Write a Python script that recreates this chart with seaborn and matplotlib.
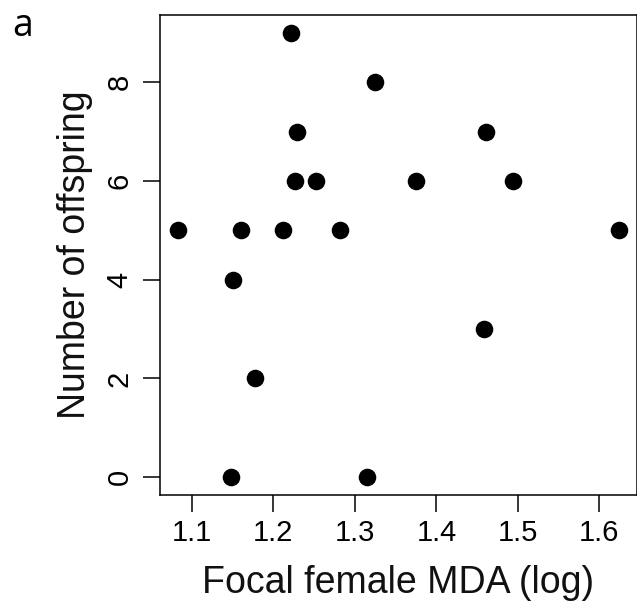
import matplotlib
matplotlib.use("Agg")
import matplotlib.pyplot as plt
import pandas as pd
import seaborn as sns

# Valores (MDA focal en log, número de crías)
mda_log = [1.221, 1.325, 1.229, 1.461, 1.226, 1.252, 1.375, 1.494,
           1.083, 1.160, 1.212, 1.282, 1.624, 1.150, 1.459, 1.177,
           1.148, 1.315]
offspring = [9, 8, 7, 7, 6, 6, 6, 6,
             5, 5, 5, 5, 5, 4, 3, 2,
             0, 0]

x_ticks = [1.1, 1.2, 1.3, 1.4, 1.5, 1.6]
y_ticks = [0, 2, 4, 6, 8]

df = pd.DataFrame({"mda": mda_log, "offspring": offspring})

sns.set_style("white")
plt.rcParams["font.family"] = ["Liberation Sans", "DejaVu Sans"]

fig = plt.figure(figsize=(6.37, 6.06), dpi=100)
ax = fig.add_axes([160 / 637, 111 / 606, 477 / 637, 480 / 606])

sns.scatterplot(data=df, x="mda", y="offspring", ax=ax, color="black",
                s=160, edgecolor="black", linewidth=0, legend=False)

ax.set_xlim(1.0608, 1.6462)
ax.set_ylim(-0.36, 9.36)
ax.set_xticks(x_ticks)
ax.set_xticklabels([f"{t:.1f}" for t in x_ticks])
ax.set_yticks(y_ticks)
ax.set_yticklabels([str(t) for t in y_ticks], rotation=90, va="center")

for side in ["top", "right", "bottom", "left"]:
    ax.spines[side].set_visible(True)
    ax.spines[side].set_color("black")
    ax.spines[side].set_linewidth(1.1)

ax.tick_params(axis="both", direction="out", length=12, width=1.1,
               colors="black", labelsize=21)
ax.tick_params(axis="x", pad=5, bottom=True)
ax.tick_params(axis="y", pad=7, left=True)

ax.set_xlabel("Focal female MDA (log)", fontsize=27, color="#111111")
ax.set_ylabel("Number of offspring", fontsize=27, color="#111111")
ax.xaxis.set_label_coords(0.5, -0.145)
ax.yaxis.set_label_coords(-0.14, 0.5)

fig.text(12 / 637, 1 - 36 / 606, "a", fontsize=27, family=["Open Sans", "DejaVu Sans"],
         ha="left", va="baseline", color="black")

fig.savefig("out.png", dpi=100)
